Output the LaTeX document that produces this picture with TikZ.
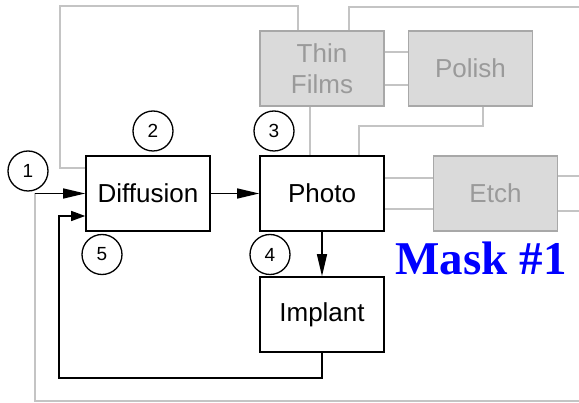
\documentclass[tikz,border=0pt]{standalone}
\usepackage{fontspec}
\setmainfont{Liberation Serif}
\setsansfont{Liberation Sans}
\usepackage{xcolor}
\usetikzlibrary{arrows.meta,positioning,calc}
\definecolor{faint}{HTML}{C4C4C4}
\definecolor{boxgray}{HTML}{DADADA}
\definecolor{edgegray}{HTML}{A8A8A8}
\definecolor{textgray}{HTML}{9A9A9A}

\begin{document}
\begin{tikzpicture}[x=1pt,y=-1pt,>={Triangle[length=22pt,width=10pt]},
  stage/.style={draw,line width=1.6pt,fill=white,minimum width=124pt,minimum height=75pt,
    font=\sffamily\fontsize{26}{26}\selectfont,inner sep=0pt},
  other/.style={stage,draw=edgegray,fill=boxgray,text=textgray,align=center,
    font=\sffamily\fontsize{26}{31}\selectfont},
  num/.style={circle,draw,line width=1.3pt,minimum size=40pt,inner sep=0pt,
    font=\sffamily\fontsize{19}{19}\selectfont},
  flow/.style={line width=1.4pt},
  link/.style={draw=faint,line width=1.6pt}]
  \useasboundingbox (0,0) rectangle (579,403);

  % other process steps (grey)
  \node[other] (films) at (322,68.5) {Thin\\Films};
  \node[other] (polish) at (470.5,68.5) {Polish};
  \node[other] (etch) at (495.5,193.5) {Etch};

  % mask #1 steps
  \node[stage] (diff) at (148,193.5) {Diffusion};
  \node[stage] (photo) at (322,193.5) {Photo};
  \node[stage] (implant) at (322,314.5) {Implant};

  \coordinate (in) at (35,193.5);
  \coordinate (fb) at (59,378);

  % grey links
  \draw[link] ([yshift=25.5pt]diff.west) -| (60,6) -| ([xshift=-24pt]films.north);
  \draw[link] ([xshift=27pt]films.north) |- (579,7);
  \draw[link] ([yshift=16.5pt]films.east) -- ([yshift=16.5pt]polish.west);
  \draw[link] ([yshift=-16.5pt]films.east) -- ([yshift=-16.5pt]polish.west);
  \draw[link] ([xshift=-12pt]films.south) -- ([xshift=-12pt]photo.north);
  \draw[link] ([xshift=12.5pt]polish.south) -- ++(0,19) -| ([xshift=37pt]photo.north);
  \draw[link] ([yshift=15.5pt]photo.east) -- ([yshift=15.5pt]etch.west);
  \draw[link] ([yshift=-15.5pt]photo.east) -- ([yshift=-15.5pt]etch.west);
  \draw[link] ([yshift=17.5pt]etch.east) -- ++(21,0);
  \draw[link] ([yshift=-17.5pt]etch.east) -- ++(21,0);
  \draw[link] (in) -- (35,401) -- (579,401);

  % flow
  \draw[flow,->] (in) -- (diff.west);
  \draw[flow,->] (diff.east) -- (photo.west);
  \draw[flow,->] (photo.south) -- (implant.north);
  \draw[flow,->,>={Triangle[length=14pt,width=10pt]}] (implant.south) |- (fb)
    |- ([yshift=-22.5pt]diff.west);

  % step numbers
  \node[num] (n1) at (28,171) {1};
  \node[num] (n2) at (153,131) {2};
  \node[num] (n3) at (274,131) {3};
  \node[num] (n4) at (270,254.5) {4};
  \node[num] (n5) at (102,254.5) {5};

  \node[text=blue,font=\bfseries\fontsize{47}{47}\selectfont,anchor=base] (mask) at (481,275) {Mask \#1};
\end{tikzpicture}
\end{document}
